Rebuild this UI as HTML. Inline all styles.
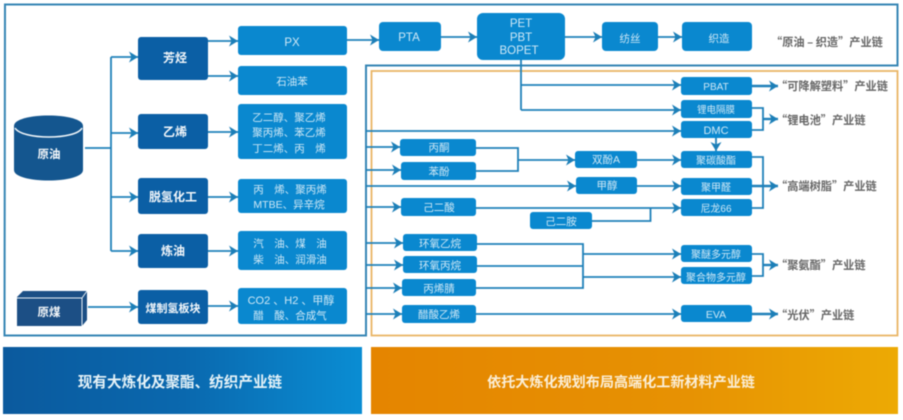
<!DOCTYPE html>
<html><head><meta charset="utf-8">
<style>
html,body{margin:0;padding:0;background:#fff;width:903px;height:420px;overflow:hidden}
svg{display:block;filter:blur(0.55px)}
text{font-family:"Liberation Sans","Noto Sans CJK SC",sans-serif;text-anchor:middle}
.d rect{fill:#0b5fa5}
.m rect{fill:#0a88cf}
.dt{fill:#fff;font-size:12px;font-weight:bold;opacity:.95}
.t{fill:#cfe8f6;font-size:10.5px}
.l{fill:#666;font-family:"Noto Sans CJK SC","Liberation Sans",sans-serif;font-size:11.2px;font-weight:bold;text-anchor:start}
.w{fill:none;stroke:#1f80b9;stroke-width:1.8}
</style></head><body>
<svg width="903" height="420" viewBox="0 0 903 420" xmlns="http://www.w3.org/2000/svg">
<defs>
<marker id="a" markerUnits="userSpaceOnUse" markerWidth="11" markerHeight="12" refX="9" refY="5.5" orient="auto"><path d="M0 0L9 5.5L0 11L2.5 5.5Z" fill="#1c7fb8"/></marker>
<linearGradient id="g1" x1="0" x2="1" y1="0" y2="0"><stop offset="0" stop-color="#0b5a9e"/><stop offset=".5" stop-color="#0a68ae"/><stop offset="1" stop-color="#0a8dd3"/></linearGradient>
<linearGradient id="g2" x1="0" x2="1" y1="0" y2="0"><stop offset="0" stop-color="#e58500"/><stop offset=".6" stop-color="#e79203"/><stop offset="1" stop-color="#edaa04"/></linearGradient>
</defs>

<!-- frames -->
<path d="M5 4.5H897.5V65.5H366V335.5H4.5Z" fill="none" stroke="#3585b4" stroke-width="2"/>
<rect x="371.5" y="71" width="526" height="264.5" fill="none" stroke="#e9b565" stroke-width="1.8"/>

<!-- connectors -->
<g class="w">
<path d="M85 148H111"/>
<path d="M111 251V57"/>
<path d="M111 57H138" marker-end="url(#a)"/>
<path d="M111 133H138" marker-end="url(#a)"/>
<path d="M111 197H138" marker-end="url(#a)"/>
<path d="M111 251H138" marker-end="url(#a)"/>
<path d="M88 307H138" marker-end="url(#a)"/>
<path d="M208 41H238" marker-end="url(#a)"/>
<path d="M208 76H238" marker-end="url(#a)"/>
<path d="M208 132H238" marker-end="url(#a)"/>
<path d="M208 197H238" marker-end="url(#a)"/>
<path d="M208 251H238" marker-end="url(#a)"/>
<path d="M208 306H238" marker-end="url(#a)"/>
<path d="M347 40H379" marker-end="url(#a)"/>
<path d="M441 37H477" marker-end="url(#a)"/>
<path d="M565 37H602" marker-end="url(#a)"/>
<path d="M658 37H682" marker-end="url(#a)"/>
<path d="M521 60V110"/>
<path d="M521 85H681" marker-end="url(#a)"/>
<path d="M521 110H681" marker-end="url(#a)"/>
<path d="M366 131H681" marker-end="url(#a)"/>
<path d="M366 147H400" marker-end="url(#a)"/>
<path d="M366 170H401" marker-end="url(#a)"/>
<path d="M366 186H576" marker-end="url(#a)"/>
<path d="M366 207H401" marker-end="url(#a)"/>
<path d="M366 243H403" marker-end="url(#a)"/>
<path d="M366 265H403" marker-end="url(#a)"/>
<path d="M366 288H402" marker-end="url(#a)"/>
<path d="M366 314H402" marker-end="url(#a)"/>
<path d="M476 148H518V171H476"/>
<path d="M518 160H575" marker-end="url(#a)"/>
<path d="M637 160H681" marker-end="url(#a)"/>
<path d="M637 186H681" marker-end="url(#a)"/>
<path d="M476 208H681" marker-end="url(#a)"/>
<path d="M592 221H650.5V208"/>
<path d="M477 244H583V288H476"/>
<path d="M477 266H583"/>
<path d="M583 254H681" marker-end="url(#a)"/>
<path d="M583 277H681" marker-end="url(#a)"/>
<path d="M476 314H681" marker-end="url(#a)"/>
<path d="M716 138V151" marker-end="url(#a)"/>
<path d="M752 86H778" marker-end="url(#a)" stroke-width="2.4"/>
<path d="M752 108H763V130H752"/>
<path d="M763 119H778" marker-end="url(#a)" stroke-width="2.4"/>
<path d="M752 157H763V208H752"/>
<path d="M752 186H778" marker-end="url(#a)" stroke-width="2.4"/>
<path d="M752 254H763V276H752"/>
<path d="M763 265H778" marker-end="url(#a)" stroke-width="2.4"/>
<path d="M752 314H778" marker-end="url(#a)" stroke-width="2.4"/>
</g>

<!-- crude oil cylinder -->
<path d="M14 126C14 112 83 112 83 126V170C83 184 14 184 14 170Z" fill="#14568f"/>
<path d="M15 128C22 140 76 140 82 128" fill="none" stroke="#f2f7fa" stroke-width="1.5"/>
<text x="49" y="158" class="dt" style="font-size:11.5px">原油</text>

<!-- coal box -->
<path d="M17 297L23 291H87V320L82 326H17Z" fill="#1c4f85"/>
<path d="M17 298H82V326M82 298L87 291" fill="none" stroke="#e8f1f7" stroke-width="1"/>
<text x="49" y="316" class="dt" style="font-size:11.5px">原煤</text>

<!-- dark nodes -->
<g class="d">
<rect x="138" y="37" width="70" height="43" rx="3"/>
<rect x="138" y="114" width="70" height="35" rx="3"/>
<rect x="138" y="178" width="70" height="36" rx="3"/>
<rect x="138" y="234" width="70" height="34" rx="3"/>
<rect x="138" y="290" width="70" height="34" rx="3"/>
</g>
<text x="175" y="62" class="dt">芳烃</text>
<text x="175" y="136" class="dt">乙烯</text>
<text x="173" y="201" class="dt">脱氢化工</text>
<text x="173" y="255" class="dt">炼油</text>
<text x="173" y="312" class="dt" style="font-size:11px">煤制氢板块</text>

<!-- mid nodes -->
<g class="m">
<rect x="238" y="26" width="109" height="29" rx="3"/>
<rect x="238" y="66" width="109" height="29" rx="3"/>
<rect x="238" y="104" width="109" height="55" rx="3"/>
<rect x="238" y="179" width="109" height="34" rx="3"/>
<rect x="238" y="231" width="109" height="39" rx="3"/>
<rect x="238" y="288" width="109" height="36" rx="3"/>
<rect x="379" y="22" width="62" height="29" rx="4"/>
<rect x="477" y="13" width="88" height="47" rx="6"/>
<rect x="602" y="22" width="56" height="29" rx="4"/>
<rect x="682" y="22" width="70" height="29" rx="4"/>
<rect x="681" y="77" width="71" height="18" rx="3"/>
<rect x="681" y="100" width="71" height="18" rx="3"/>
<rect x="681" y="121" width="71" height="17" rx="3"/>
<rect x="681" y="151" width="71" height="17" rx="3"/>
<rect x="681" y="178" width="71" height="17" rx="3"/>
<rect x="681" y="199" width="71" height="17" rx="3"/>
<rect x="681" y="245" width="71" height="17" rx="3"/>
<rect x="681" y="267" width="71" height="17" rx="3"/>
<rect x="681" y="305" width="71" height="17" rx="3"/>
<rect x="400" y="139" width="76" height="17" rx="3"/>
<rect x="401" y="162" width="75" height="18" rx="3"/>
<rect x="401" y="198" width="75" height="18" rx="3"/>
<rect x="530" y="212" width="62" height="17" rx="3"/>
<rect x="403" y="234" width="74" height="17" rx="3"/>
<rect x="403" y="256" width="74" height="17" rx="3"/>
<rect x="402" y="279" width="74" height="17" rx="3"/>
<rect x="402" y="305" width="74" height="18" rx="3"/>
<rect x="575" y="151" width="62" height="17" rx="3"/>
<rect x="576" y="177" width="61" height="17" rx="3"/>
</g>

<g class="t">
<text x="292" y="46" style="font-size:11.5px">PX</text>
<text x="292" y="85">石油苯</text>
<text x="289" y="121">乙二醇、聚乙烯</text>
<text x="289" y="136">聚丙烯、苯乙烯</text>
<text x="289" y="152">丁二烯、丙　烯</text>
<text x="290" y="193">丙　烯、聚丙烯</text>
<text x="289" y="208">MTBE、异辛烷</text>
<text x="290" y="247">汽　油、煤　油</text>
<text x="290" y="263">柴　油、润滑油</text>
<text x="291" y="304" style="font-size:11px">CO2 、H2 、甲醇</text>
<text x="290" y="319">醋　酸、合成气</text>
<text x="409" y="41" style="font-size:11.5px">PTA</text>
<text x="521" y="27" style="font-size:11.5px">PET</text>
<text x="521" y="41" style="font-size:11.5px">PBT</text>
<text x="519" y="54" style="font-size:11.5px">BOPET</text>
<text x="630" y="42">纺丝</text>
<text x="719" y="42">织造</text>
<text x="716" y="90" style="font-size:10px">PBAT</text>
<text x="716" y="113" style="font-size:9.5px">锂电隔膜</text>
<text x="716" y="134" style="font-size:11px">DMC</text>
<text x="716" y="164" style="font-size:10px">聚碳酸酯</text>
<text x="716" y="191" style="font-size:10px">聚甲醛</text>
<text x="716" y="212" style="font-size:10px">尼龙66</text>
<text x="716" y="258" style="font-size:10px">聚醚多元醇</text>
<text x="716" y="281" style="font-size:10px">聚合物多元醇</text>
<text x="716" y="318" style="font-size:10.5px">EVA</text>
<text x="439" y="151">丙酮</text>
<text x="439" y="175">苯酚</text>
<text x="439" y="211">己二酸</text>
<text x="561" y="225">己二胺</text>
<text x="440" y="247">环氧乙烷</text>
<text x="440" y="269">环氧丙烷</text>
<text x="439" y="292">丙烯腈</text>
<text x="439" y="318">醋酸乙烯</text>
<text x="606" y="163">双酚A</text>
<text x="607" y="189">甲醇</text>
</g>

<!-- chain labels -->
<text x="771" y="46" class="l">“原油 – 织造”产业链</text>
<text x="776" y="90" class="l">“可降解塑料”产业链</text>
<text x="776" y="124" class="l">“锂电池”产业链</text>
<text x="776" y="190" class="l">“高端树脂”产业链</text>
<text x="776" y="269" class="l">“聚氨酯”产业链</text>
<text x="776" y="319" class="l">“光伏”产业链</text>

<!-- banners -->
<rect x="3" y="347" width="359" height="67" fill="url(#g1)"/>
<rect x="371" y="347" width="527" height="67" fill="url(#g2)"/>
<text x="180" y="387" style="fill:#e6f3f8;font-size:14.6px;font-weight:bold">现有大炼化及聚酯、纺织产业链</text>
<text x="621" y="387" style="fill:#fbefd8;font-size:14.1px;font-weight:bold">依托大炼化规划布局高端化工新材料产业链</text>
</svg>
</body></html>
